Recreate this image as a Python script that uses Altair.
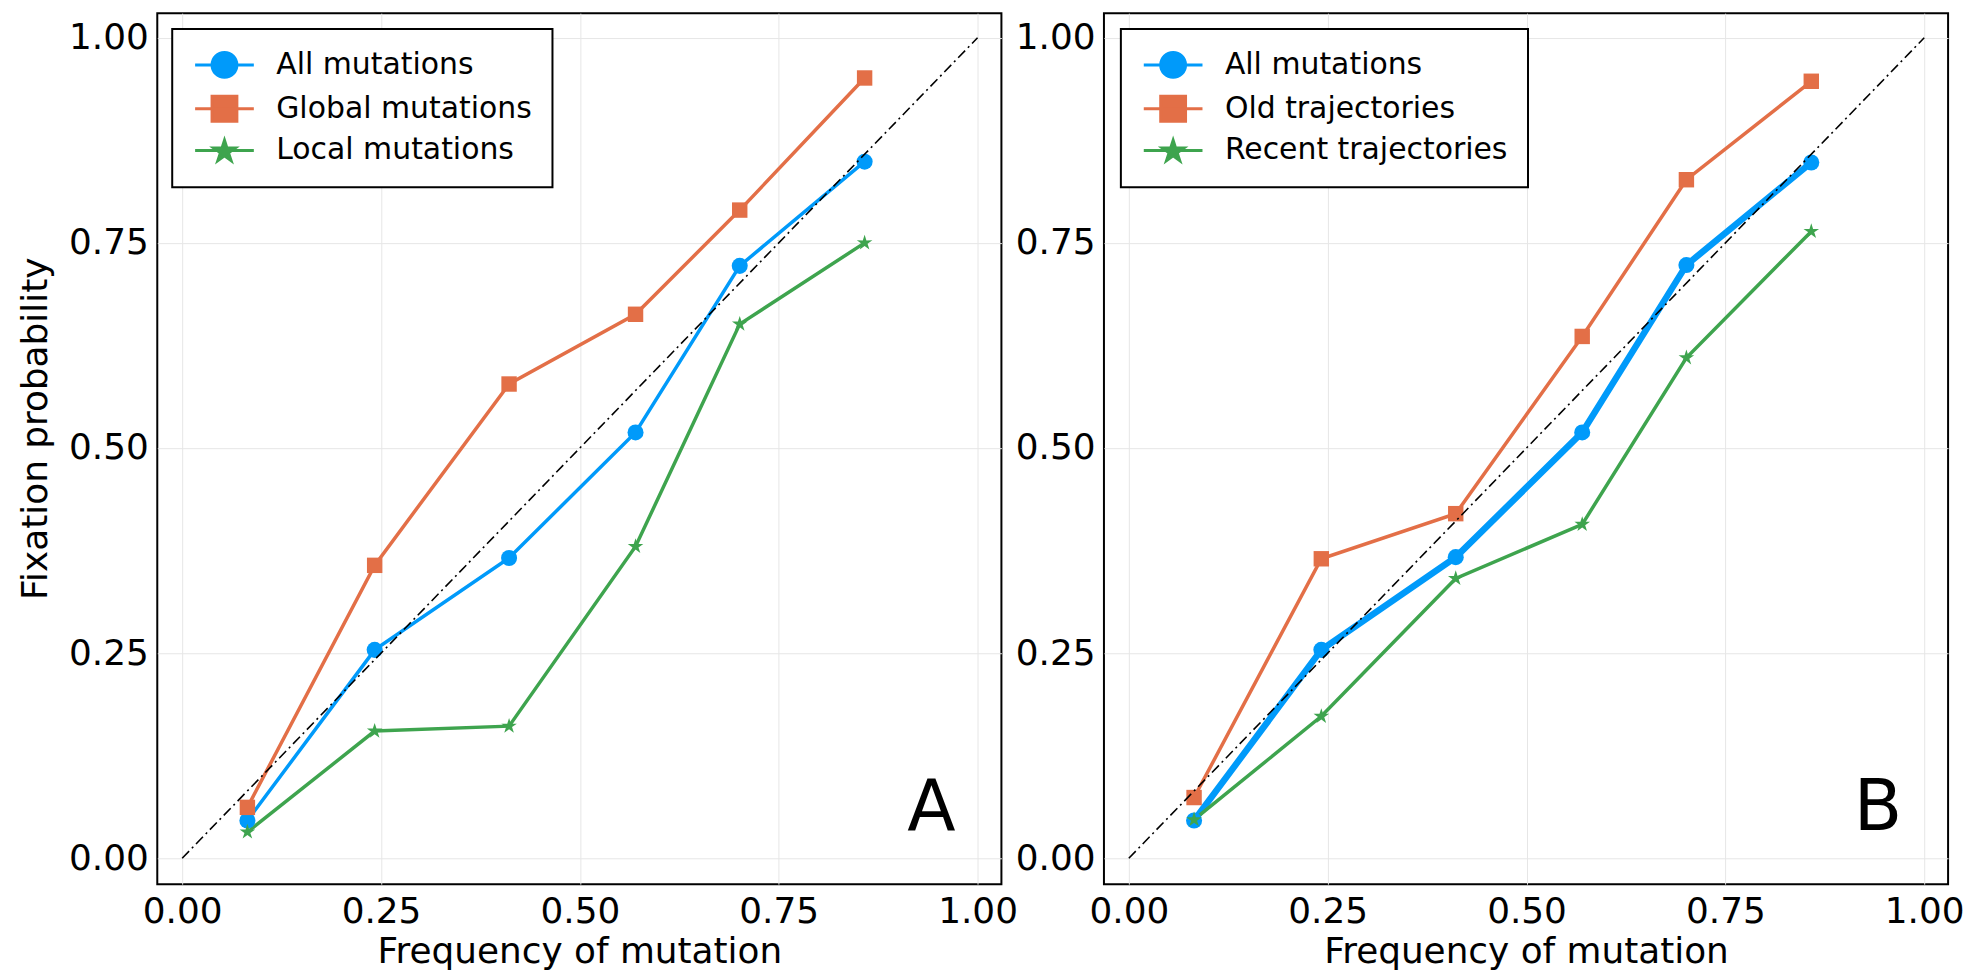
import altair as alt
import pandas as pd

# ---------------- data ----------------
freq = [0.082, 0.242, 0.411, 0.570, 0.701, 0.858]

a_all = [0.046, 0.254, 0.366, 0.519, 0.722, 0.849]
a_global = [0.062, 0.357, 0.578, 0.663, 0.790, 0.951]
a_local = [0.032, 0.155, 0.161, 0.380, 0.651, 0.750]

b_all = [0.046, 0.254, 0.367, 0.519, 0.723, 0.848]
b_old = [0.074, 0.365, 0.420, 0.636, 0.827, 0.947]
b_recent = [0.047, 0.173, 0.341, 0.407, 0.610, 0.764]

a_names = ["All mutations", "Global mutations", "Local mutations"]
b_names = ["All mutations", "Old trajectories", "Recent trajectories"]
colors = ["#009AFA", "#E36F47", "#3EA44E"]
tick_values = [0.0, 0.25, 0.5, 0.75, 1.0]
diag = [0.0, 1.0]

FONT = "DejaVu Sans"

# ---------------- marker shapes ----------------
def star_path(R=1.0, r=0.38, dy=0.0):
    import math
    pts = []
    for k in range(10):
        ang = math.radians(-90 + 36 * k)
        rad = R if k % 2 == 0 else r * R
        pts.append((rad * math.cos(ang), rad * math.sin(ang) + dy))
    return "M" + " L".join(f"{x:.3f},{y:.3f}" for x, y in pts) + " Z"

STAR = star_path()
# legend symbols: a line segment with the marker on it (unit = half of 29 px)
L = 2.034
c = 0.86
LEG_CIRCLE = f"M-{L},0H{L} M{c},0 A{c},{c} 0 1,1 -{c},0 A{c},{c} 0 1,1 {c},0 Z"
LEG_SQUARE = f"M-{L},0H{L} M-{c},-{c}H{c}V{c}H-{c}Z"
LEG_STAR = f"M-{L},0H{L} " + star_path(R=0.78, dy=0.07)
legend_shapes = [LEG_CIRCLE, LEG_SQUARE, LEG_STAR]
marker_shapes = ["circle", "square", STAR]
marker_sizes = [260, 240, 270]

XDOM = [-0.0313, 1.030]
YDOM = [-0.0316, 1.030]


def panel(names, series, widths, letter, legend_x, show_ytitle):
    rows = []
    for name, ys in zip(names, series):
        for xv, yv in zip(freq, ys):
            rows.append({"x": xv, "y": yv, "series": name})
    df = pd.DataFrame(rows)

    x_enc = alt.X(
        "x:Q",
        scale=alt.Scale(domain=XDOM, nice=False, zero=False),
        axis=alt.Axis(
            values=tick_values, format=".2f", title="Frequency of mutation",
            labelFont=FONT, labelFontSize=36, titleFont=FONT, titleFontSize=36,
            titleFontWeight="normal", labelColor="black", titleColor="black",
            grid=True, gridColor="#e6e6e6", gridWidth=1, domain=False, ticks=False,
            labelPadding=10, titlePadding=6, labelFlush=False, labelOverlap=False,
        ),
    )
    y_axis_kw = dict(
        values=tick_values, format=".2f",
        labelFont=FONT, labelFontSize=36, titleFont=FONT, titleFontSize=36,
        titleFontWeight="normal", labelColor="black", titleColor="black",
        grid=True, gridColor="#e6e6e6", gridWidth=1, domain=False, ticks=False,
        labelPadding=9, titlePadding=14, labelFlush=False, labelOverlap=False,
    )
    if show_ytitle:
        y_axis = alt.Axis(title="Fixation probability", titleY=417, **y_axis_kw)
    else:
        y_axis = alt.Axis(title=None, **y_axis_kw)
    y_enc = alt.Y("y:Q", scale=alt.Scale(domain=YDOM, nice=False, zero=False), axis=y_axis)
    base = alt.Chart(df)

    layers = []
    for name, w, col in zip(names, widths, colors):
        layers.append(
            base.transform_filter(alt.datum.series == name)
            .mark_line(strokeWidth=w, color=col)
            .encode(x=x_enc, y=y_enc)
        )
    for name, shp, sz, col in zip(names, marker_shapes, marker_sizes, colors):
        layers.append(
            base.transform_filter(alt.datum.series == name)
            .mark_point(shape=shp, filled=True, size=sz, opacity=1, color=col)
            .encode(x=x_enc, y=y_enc)
        )

    diag_df = pd.DataFrame({"x": diag, "y": diag})
    layers.append(
        alt.Chart(diag_df)
        .mark_line(color="black", strokeWidth=1.6, strokeDash=[10, 4, 2, 4])
        .encode(x=x_enc, y=y_enc)
    )

    letter_df = pd.DataFrame({"x": [0.942], "y": [0.035], "t": [letter]})
    layers.append(
        alt.Chart(letter_df)
        .mark_text(font=FONT, fontSize=71, baseline="alphabetic", align="center", color="black")
        .encode(x=x_enc, y=y_enc, text="t:N")
    )

    leg = alt.Legend(
        orient="none", legendX=legend_x, legendY=16, direction="vertical", title=None,
        fillColor="white", strokeColor="black", cornerRadius=0,
        padding=20, labelFont=FONT, labelFontSize=30, labelColor="black",
        labelOffset=36, labelLimit=600, rowPadding=6, symbolSize=841,
        symbolOffset=16.5, symbolStrokeWidth=3, symbolOpacity=1,
    )
    layers.append(
        base.transform_filter("false")
        .mark_point(filled=True, size=841, strokeWidth=3, opacity=1)
        .encode(
            x=x_enc, y=y_enc,
            fill=alt.Fill("series:N", scale=alt.Scale(domain=names, range=colors), legend=leg),
            stroke=alt.Stroke("series:N", scale=alt.Scale(domain=names, range=colors), legend=leg),
            shape=alt.Shape("series:N", scale=alt.Scale(domain=names, range=legend_shapes), legend=leg),
        )
    )

    return alt.layer(*layers).properties(width=848, height=875)


panel_a = panel(a_names, [a_all, a_global, a_local], [3.5, 3.5, 3.5], "A", 15, True)
panel_b = panel(b_names, [b_all, b_old, b_recent], [6.5, 3.5, 3.5], "B", 17, False)

chart = (
    alt.hconcat(panel_a, panel_b, spacing=103, bounds="flush")
    .resolve_scale(fill="independent", stroke="independent", shape="independent")
    .resolve_legend(fill="independent", stroke="independent", shape="independent")
    .properties(padding={"left": 16, "top": 10, "right": 0, "bottom": 0}, background="white")
    .configure_view(stroke="black", strokeWidth=2)
    .configure_legend(strokeWidth=2)
)

chart.save("out.html", embed_options={"renderer": "svg", "actions": False})
